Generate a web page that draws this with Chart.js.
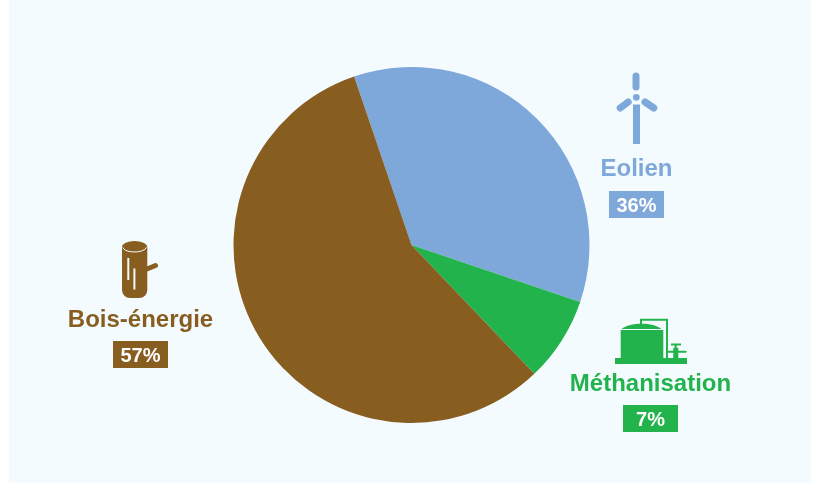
<!DOCTYPE html>
<html>
<head>
<meta charset="utf-8">
<script src="https://cdn.jsdelivr.net/npm/chart.js@4/dist/chart.umd.min.js"></script>
<style>
  html, body { margin: 0; padding: 0; background: #fff; }
  #panel { position: absolute; left: 9px; top: 0; width: 802px; height: 483px; background: #f4fbff; }
  #wrap { position: absolute; left: 0; top: 0; width: 818px; height: 483px; }
</style>
</head>
<body>
<div id="panel"></div>
<div id="wrap"><canvas id="pie" width="818" height="483"></canvas></div>
<script>
// Data
const categories = ['Eolien', 'Méthanisation', 'Bois-énergie'];
const sliceValues = [35.4, 7.7, 56.9];
const shownPercents = ['36%', '7%', '57%'];
const sliceColors = ['#7ea7da', '#23b34c', '#875d20'];

// Where each label block sits: centre x, name baseline, badge top, percent baseline
const labelSpots = [
  { x: 636.5, name: 175.5, badge: 191, pct: 211.5 },
  { x: 650.5, name: 390.5, badge: 405, pct: 425.5 },
  { x: 140.5, name: 327, badge: 341, pct: 361.5 }
];

// Icons
function drawTurbine(ctx, c) {
  ctx.save();
  ctx.strokeStyle = c;
  ctx.fillStyle = c;
  ctx.lineCap = 'round';
  ctx.lineWidth = 7;
  ctx.beginPath();
  ctx.moveTo(636, 76); ctx.lineTo(636, 87);
  ctx.moveTo(620.2, 108); ctx.lineTo(628.2, 102);
  ctx.moveTo(645, 102); ctx.lineTo(653.8, 108);
  ctx.stroke();
  ctx.beginPath();
  ctx.arc(636.3, 97.3, 3.4, 0, Math.PI * 2);
  ctx.fill();
  ctx.fillRect(633, 104.5, 7, 39.5);
  ctx.restore();
}

function drawLog(ctx, c) {
  ctx.save();
  ctx.fillStyle = c;
  ctx.strokeStyle = c;
  ctx.lineCap = 'round';
  ctx.lineWidth = 5;
  ctx.beginPath();
  ctx.moveTo(147, 269); ctx.lineTo(155.5, 265.5);
  ctx.stroke();
  ctx.beginPath();
  ctx.ellipse(134.6, 247, 12.6, 6, 0, 0, Math.PI * 2);
  ctx.fill();
  ctx.beginPath();
  ctx.roundRect(122, 247, 25.3, 51, [0, 0, 8, 8]);
  ctx.fill();
  ctx.strokeStyle = '#f4fbff';
  ctx.lineCap = 'butt';
  ctx.lineWidth = 1;
  ctx.beginPath();
  ctx.ellipse(134.6, 246.5, 12, 5.5, 0, 0.15, Math.PI - 0.15);
  ctx.stroke();
  ctx.lineWidth = 2;
  ctx.beginPath();
  ctx.moveTo(128.3, 258); ctx.lineTo(128.3, 280);
  ctx.moveTo(134.4, 268.5); ctx.lineTo(134.4, 289.5);
  ctx.stroke();
  ctx.restore();
}

function drawDigester(ctx, c) {
  ctx.save();
  ctx.fillStyle = c;
  ctx.strokeStyle = c;
  ctx.fillRect(615, 358, 72, 6);
  ctx.fillRect(620.7, 330, 42.6, 28);
  ctx.beginPath();
  ctx.moveTo(621.5, 329);
  ctx.bezierCurveTo(630, 322, 653, 322, 661.5, 329);
  ctx.closePath();
  ctx.fill();
  ctx.lineWidth = 2;
  ctx.beginPath();
  ctx.moveTo(641, 324); ctx.lineTo(641, 319.7); ctx.lineTo(667, 319.7); ctx.lineTo(667, 358);
  ctx.moveTo(667, 351.7); ctx.lineTo(686.5, 351.7);
  ctx.moveTo(671, 344.4); ctx.lineTo(681, 344.4);
  ctx.moveTo(675.7, 344.4); ctx.lineTo(675.7, 348);
  ctx.stroke();
  ctx.fillRect(673.3, 347.7, 5, 10.5);
  ctx.restore();
}

const iconDrawers = [drawTurbine, drawDigester, drawLog];

// Icons and labels next to the pie
const sideLabels = {
  id: 'sideLabels',
  afterDraw(chart) {
    const ctx = chart.ctx;
    ctx.save();
    ctx.textAlign = 'center';
    ctx.textBaseline = 'alphabetic';
    categories.forEach((name, i) => {
      const spot = labelSpots[i];
      const color = sliceColors[i];
      iconDrawers[i](ctx, color);
      ctx.fillStyle = color;
      ctx.font = 'bold 24px "Liberation Sans", Arial, sans-serif';
      ctx.fillText(name, spot.x, spot.name);
      ctx.fillRect(spot.x - 27.5, spot.badge, 55, 27);
      ctx.fillStyle = '#ffffff';
      ctx.font = 'bold 20px "Liberation Sans", Arial, sans-serif';
      ctx.fillText(shownPercents[i], spot.x, spot.pct);
    });
    ctx.restore();
  }
};

new Chart(document.getElementById('pie'), {
  type: 'pie',
  data: {
    labels: categories,
    datasets: [{
      data: sliceValues,
      backgroundColor: sliceColors,
      borderWidth: 0
    }]
  },
  options: {
    responsive: false,
    animation: false,
    rotation: -18.8,
    radius: 178,
    layout: { padding: { left: 5, top: 7 } },
    plugins: {
      legend: { display: false },
      tooltip: { enabled: false }
    }
  },
  plugins: [sideLabels]
});
</script>
</body>
</html>
